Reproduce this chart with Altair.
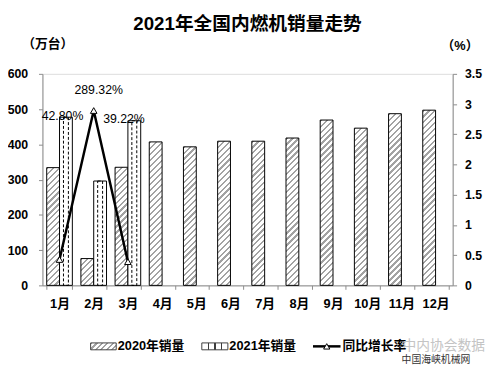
import altair as alt
import pandas as pd

# ---------------- data ----------------
months = ["1月", "2月", "3月", "4月", "5月", "6月", "7月", "8月", "9月", "10月", "11月", "12月"]
series_names = ["2020年销量", "2021年销量"]
line_name = "同比增长率"
sales_2020 = [334, 76, 335, 407, 393, 409, 409, 418, 469, 446, 487, 497]
sales_2021 = [477, 296, 467]
growth_2021 = [0.4280, 2.8932, 0.3922]

title_text = "2021年全国内燃机销量走势"
left_unit = "（万台）"
right_unit = "（%）"
watermark_1 = "中内协会数据"
watermark_2 = "中国海峡机械网"

bars_df = pd.DataFrame(
    [{"month": m, "series": series_names[0], "value": v} for m, v in zip(months, sales_2020)]
    + [{"month": m, "series": series_names[1], "value": v} for m, v in zip(months, sales_2021)]
)
line_df = pd.DataFrame({"month": months[: len(growth_2021)], "growth": growth_2021})
legend_df = pd.DataFrame({"label": series_names + [line_name]})
wm_df = pd.DataFrame({"t": [watermark_1, watermark_2]})

# ---------------- style ----------------
PLOT_W, PLOT_H = 417, 215
BAR_W = PLOT_W / 12 * 0.75 / 2
FONT = "Liberation Sans, Noto Sans CJK SC, sans-serif"
AXIS_GRAY = "#8c8c8c"
HATCH_GRAY = "#a3a3a3"


def hatch(w, h, period=6.0, color=HATCH_GRAY, frac=0.38):
    """45-degree '/' stripes expressed as a bounding-box linear gradient."""
    a = (w + h) * w / (w * w + h * h)
    b = a * h / w
    n = max(1, round((w + h) / period))
    stops = []
    for k in range(n):
        s, m, e = k / n, (k + frac) / n, (k + 1) / n
        stops += [
            alt.GradientStop(color=color, offset=s),
            alt.GradientStop(color=color, offset=m),
            alt.GradientStop(color="white", offset=m),
            alt.GradientStop(color="white", offset=e),
        ]
    return alt.LinearGradient(gradient="linear", stops=stops, x1=0, y1=0, x2=a, y2=b)


def vstripes(positions, width=0.08, color="#3c3c3c"):
    stops = [alt.GradientStop(color="white", offset=0)]
    for p in positions:
        stops += [
            alt.GradientStop(color="white", offset=p - width / 2),
            alt.GradientStop(color=color, offset=p - width / 2),
            alt.GradientStop(color=color, offset=p + width / 2),
            alt.GradientStop(color="white", offset=p + width / 2),
        ]
    stops.append(alt.GradientStop(color="white", offset=1))
    return alt.LinearGradient(gradient="linear", stops=stops, x1=0, y1=0, x2=1, y2=0)


x_axis = alt.Axis(
    title=None, labelAngle=0, labelFont=FONT, labelFontSize=13, labelFontWeight="bold",
    labelColor="black", labelPadding=8, domainColor=AXIS_GRAY, tickColor=AXIS_GRAY,
    tickSize=4, tickBand="extent", grid=False,
)
X = alt.X("month:N", scale=alt.Scale(domain=months, paddingInner=0.25, paddingOuter=0.125), axis=x_axis)
XO = alt.XOffset("series:N", scale=alt.Scale(domain=series_names, paddingInner=0, paddingOuter=0))

YL = alt.Y(
    "value:Q",
    scale=alt.Scale(domain=[0, 600], nice=False),
    axis=alt.Axis(
        values=list(range(0, 601, 100)), format="d", grid=False,
        title=left_unit, titleAngle=0, titleX=5, titleY=-31, titleAlign="center",
        titleBaseline="middle", titleFont=FONT, titleFontSize=13, titleFontWeight="bold",
        titleColor="black", labelFont=FONT, labelFontSize=12.5, labelFontWeight="bold",
        labelColor="black", labelPadding=11, tickSize=4, tickColor=AXIS_GRAY, domainColor=AXIS_GRAY,
    ),
)
YR = alt.Y(
    "growth:Q",
    scale=alt.Scale(domain=[0, 3.5], nice=False),
    axis=alt.Axis(
        orient="right", values=[0, 0.5, 1, 1.5, 2, 2.5, 3, 3.5], format="~g", grid=False,
        title=right_unit, titleAngle=0, titleX=7, titleY=-29, titleAlign="center",
        titleBaseline="middle", titleFont=FONT, titleFontSize=13, titleFontWeight="bold",
        titleColor="black", labelFont=FONT, labelFontSize=12.5, labelFontWeight="bold",
        labelColor="black", labelPadding=8, tickSize=4, tickColor=AXIS_GRAY, domainColor=AXIS_GRAY,
    ),
)

# ---------------- left (sales) layers ----------------
left_layers = []
for m, v in zip(months, sales_2020):
    h = v / 600 * PLOT_H
    left_layers.append(
        alt.Chart(bars_df)
        .transform_filter((alt.datum.series == series_names[0]) & (alt.datum.month == m))
        .mark_bar(fill=hatch(BAR_W, h), stroke="black", strokeWidth=1)
        .encode(x=X, xOffset=XO, y=YL)
    )
bars21 = alt.Chart(bars_df).transform_filter(alt.datum.series == series_names[1])
left_layers += [
    bars21.mark_bar(fill="white", stroke="black", strokeWidth=1).encode(x=X, xOffset=XO, y=YL),
    # the two dashed vertical lines inside each 2021 bar
    bars21.mark_bar(width=5, fillOpacity=0, stroke="black", strokeWidth=1, strokeDash=[3, 2])
    .encode(x=X, xOffset=XO, y=YL),
]

# custom legend (bottom)
LEG_Y = 277
left_layers += [
    alt.Chart(legend_df).transform_filter(alt.datum.label == series_names[0])
    .mark_rect(fill=hatch(26, 7, 5.5), stroke="#404040", strokeWidth=1)
    .encode(x=alt.value(49), x2=alt.value(75), y=alt.value(LEG_Y - 3.5), y2=alt.value(LEG_Y + 3.5)),
    alt.Chart(legend_df).transform_filter(alt.datum.label == series_names[1])
    .mark_rect(fill=vstripes([0.25, 0.5, 0.75], 0.06), stroke="#404040", strokeWidth=1)
    .encode(x=alt.value(162), x2=alt.value(188.5), y=alt.value(LEG_Y - 3.5), y2=alt.value(LEG_Y + 3.5)),
    alt.Chart(legend_df).transform_filter(alt.datum.label == line_name)
    .mark_rule(color="black", strokeWidth=2.5)
    .encode(x=alt.value(275), x2=alt.value(303), y=alt.value(LEG_Y)),
    alt.Chart(legend_df).transform_filter(alt.datum.label == line_name)
    .mark_point(shape="triangle-up", filled=True, fill="white", stroke="black", strokeWidth=1, size=40, opacity=1)
    .encode(x=alt.value(289), y=alt.value(LEG_Y)),
]
for lab, lx in zip(series_names + [line_name], [76.5, 190, 305]):
    left_layers.append(
        alt.Chart(legend_df).transform_filter(alt.datum.label == lab)
        .mark_text(align="left", baseline="middle", font=FONT, fontSize=13, fontWeight="bold", color="black")
        .encode(x=alt.value(lx), y=alt.value(LEG_Y), text="label:N")
    )
# watermark texts
left_layers += [
    alt.Chart(wm_df).transform_filter(alt.datum.t == watermark_1)
    .mark_text(align="center", baseline="middle", font=FONT, fontSize=14, color="#c4c4c4")
    .encode(x=alt.value(408), y=alt.value(LEG_Y), text="t:N"),
    alt.Chart(wm_df).transform_filter(alt.datum.t == watermark_2)
    .mark_text(align="center", baseline="middle", font=FONT, fontSize=10, color="#333333")
    .encode(x=alt.value(400), y=alt.value(291), text="t:N"),
]

left = alt.layer(*left_layers)

# ---------------- right (growth) layers ----------------
label_offsets = {"1月": (3, -146), "2月": (5, -21), "3月": (-4, -145)}
right_layers = [
    alt.Chart(line_df).mark_line(color="black", strokeWidth=2.5).encode(x=X, y=YR),
    alt.Chart(line_df)
    .mark_point(shape="triangle-up", filled=True, fill="white", stroke="black", strokeWidth=1, size=45, opacity=1)
    .encode(x=X, y=YR),
]
for m, (dx, dy) in label_offsets.items():
    right_layers.append(
        alt.Chart(line_df).transform_filter(alt.datum.month == m)
        .mark_text(dx=dx, dy=dy, align="center", baseline="middle", font=FONT, fontSize=12.5, color="black")
        .encode(x=X, y=YR, text=alt.Text("growth:Q", format=".2%"))
    )
right = alt.layer(*right_layers)

chart = (
    alt.layer(left, right)
    .resolve_scale(y="independent")
    .properties(
        width=PLOT_W,
        height=PLOT_H,
        padding={"left": 35, "top": 64, "right": 41, "bottom": 78},
        autosize=alt.AutoSizeParams(type="none"),
        title=alt.TitleParams(
            text=title_text, font=FONT, fontSize=19, fontWeight="bold", color="black",
            anchor="middle", frame="group", offset=4,
        ),
    )
    .configure_view(stroke=None)
    .configure(background="white")
)

chart.save("out.html", embed_options={"renderer": "svg", "actions": False})
